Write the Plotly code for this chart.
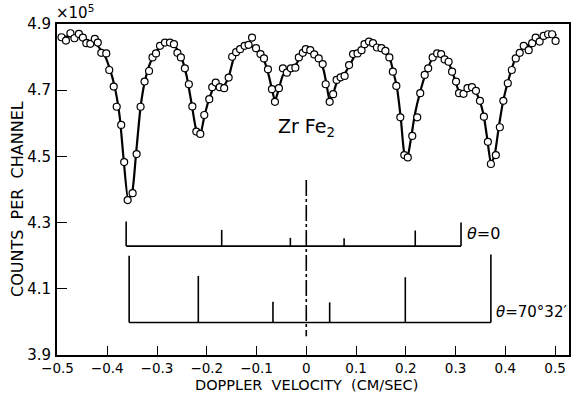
import plotly.graph_objects as go

# ---- measured spectrum (counts x1e5 vs velocity cm/s) ----
vel = [-0.492,-0.483,-0.474,-0.466,-0.457,-0.449,-0.442,-0.434,-0.425,-0.419,
       -0.412,-0.402,-0.396,-0.387,-0.381,-0.372,-0.366,-0.359,-0.349,-0.341,
       -0.333,-0.325,-0.316,-0.309,-0.302,-0.294,-0.284,-0.274,-0.266,-0.259,
       -0.252,-0.244,-0.236,-0.229,-0.221,-0.213,-0.205,-0.195,-0.189,-0.182,
       -0.174,-0.165,-0.156,-0.149,-0.141,-0.133,-0.124,-0.116,-0.109,-0.101,
       -0.092,-0.085,-0.077,-0.069,-0.063,-0.055,-0.047,-0.039,-0.031,-0.022,
       -0.015,-0.007,-0.001,0.008,0.016,0.025,0.033,0.039,0.047,0.054,
       0.061,0.069,0.077,0.086,0.094,0.103,0.111,0.117,0.126,0.134,
       0.142,0.151,0.159,0.167,0.174,0.181,0.189,0.197,0.204,0.213,
       0.223,0.229,0.238,0.245,0.254,0.263,0.271,0.278,0.286,0.293,
       0.301,0.307,0.316,0.324,0.333,0.341,0.349,0.357,0.365,0.371,
       0.381,0.389,0.396,0.405,0.413,0.421,0.429,0.437,0.447,0.454,
       0.461,0.469,0.477,0.486,0.494,0.501]
counts = [4.860,4.850,4.872,4.857,4.870,4.859,4.842,4.840,4.855,4.844,
          4.813,4.811,4.761,4.711,4.650,4.595,4.483,4.368,4.389,4.507,
          4.650,4.726,4.758,4.799,4.811,4.834,4.844,4.844,4.839,4.813,
          4.799,4.766,4.718,4.651,4.575,4.568,4.625,4.673,4.709,4.723,
          4.709,4.706,4.738,4.801,4.815,4.824,4.834,4.837,4.859,4.827,
          4.809,4.796,4.763,4.703,4.665,4.706,4.766,4.753,4.766,4.768,
          4.799,4.813,4.824,4.821,4.808,4.796,4.779,4.718,4.665,4.688,
          4.731,4.739,4.743,4.776,4.809,4.811,4.821,4.839,4.847,4.842,
          4.829,4.827,4.819,4.799,4.756,4.713,4.618,4.504,4.497,4.562,
          4.618,4.691,4.746,4.766,4.799,4.811,4.809,4.793,4.786,4.756,
          4.726,4.691,4.689,4.706,4.709,4.698,4.668,4.620,4.544,4.477,
          4.504,4.588,4.668,4.721,4.761,4.796,4.813,4.834,4.821,4.842,
          4.859,4.847,4.864,4.869,4.869,4.849]

# ---- fitted curve ----
fit_x = [-0.49,-0.46,-0.44,-0.42,-0.405,-0.395,-0.385,-0.375,-0.367,-0.358,
         -0.35,-0.342,-0.333,-0.324,-0.313,-0.30,-0.285,-0.272,-0.26,-0.25,
         -0.24,-0.23,-0.221,-0.213,-0.205,-0.195,-0.185,-0.175,-0.165,-0.155,
         -0.145,-0.13,-0.115,-0.10,-0.088,-0.078,-0.07,-0.063,-0.055,-0.047,
         -0.035,-0.022,-0.01,0.003,0.015,0.027,0.035,0.041,0.047,0.054,
         0.062,0.075,0.087,0.10,0.115,0.128,0.14,0.155,0.167,0.175,
         0.182,0.19,0.197,0.203,0.21,0.218,0.228,0.24,0.255,0.266,
         0.276,0.287,0.297,0.306,0.316,0.326,0.338,0.348,0.357,0.364,
         0.371,0.378,0.387,0.396,0.408,0.42,0.435,0.45,0.465,0.48,
         0.497,0.503]
fit_y = [4.862,4.862,4.852,4.835,4.805,4.765,4.71,4.62,4.49,4.37,
         4.39,4.51,4.65,4.73,4.785,4.82,4.842,4.845,4.825,4.795,
         4.74,4.655,4.58,4.568,4.62,4.675,4.71,4.715,4.715,4.745,
         4.80,4.826,4.835,4.825,4.80,4.76,4.71,4.668,4.705,4.745,
         4.765,4.775,4.805,4.82,4.81,4.79,4.76,4.715,4.668,4.69,
         4.725,4.745,4.775,4.81,4.832,4.843,4.835,4.82,4.80,4.755,
         4.71,4.615,4.51,4.495,4.55,4.625,4.69,4.75,4.80,4.812,
         4.80,4.78,4.74,4.70,4.69,4.705,4.70,4.67,4.62,4.55,
         4.48,4.50,4.59,4.67,4.74,4.795,4.828,4.84,4.852,4.862,
         4.868,4.866]

# ---- stick diagrams ----
theta0_x = [-0.362, -0.17, -0.032, 0.076, 0.219, 0.311]
theta0_top = [4.303, 4.278, 4.254, 4.253, 4.276, 4.300]
theta0_base = 4.229
theta70_x = [-0.356, -0.217, -0.067, 0.047, 0.199, 0.371]
theta70_top = [4.200, 4.139, 4.061, 4.059, 4.135, 4.204]
theta70_base = 3.998
center_line_y = [4.429, 3.957]

xticks = [-0.5, -0.4, -0.3, -0.2, -0.1, 0, 0.1, 0.2, 0.3, 0.4, 0.5]
xticklabels = ["\u22120.5", "\u22120.4", "\u22120.3", "\u22120.2", "\u22120.1", "0",
               "0.1", "0.2", "0.3", "0.4", "0.5"]
yticks = [3.9, 4.1, 4.3, 4.5, 4.7, 4.9]
yticklabels = ["3.9", "4.1", "4.3", "4.5", "4.7", "4.9"]

FONT = "DejaVu Sans"
fig = go.Figure()


def sticks(xs, tops, base):
    sx, sy = [], []
    for x, t in zip(xs, tops):
        sx += [x, x, None]
        sy += [base, t, None]
    sx += [xs[0], xs[-1]]
    sy += [base, base]
    return sx, sy


for xs, tops, base in [(theta0_x, theta0_top, theta0_base),
                       (theta70_x, theta70_top, theta70_base)]:
    sx, sy = sticks(xs, tops, base)
    fig.add_trace(go.Scatter(x=sx, y=sy, mode="lines",
                             line=dict(color="black", width=1.6),
                             hoverinfo="skip", showlegend=False))

fig.add_trace(go.Scatter(x=[0, 0], y=center_line_y, mode="lines",
                         line=dict(color="black", width=1.6, dash="16px,3px,3px,3px"),
                         showlegend=False))

fig.add_trace(go.Scatter(x=fit_x, y=fit_y, mode="lines",
                         line=dict(color="black", width=2.2, shape="spline", smoothing=0.5),
                         showlegend=False))
fig.add_trace(go.Scatter(x=vel, y=counts, mode="markers",
                         marker=dict(symbol="circle", size=7, color="white",
                                     line=dict(color="black", width=1.2)),
                         showlegend=False))

fig.update_layout(
    width=574, height=394,
    margin=dict(l=57, r=3, t=24, b=39),
    paper_bgcolor="white", plot_bgcolor="white",
    font=dict(family=FONT, color="black", size=14),
    xaxis=dict(range=[-0.501, 0.528], tickvals=xticks, ticktext=xticklabels,
               ticks="inside", ticklen=9, tickwidth=1.3, tickcolor="black",
               showline=True, linecolor="black", linewidth=1.8, mirror=True,
               showgrid=False, zeroline=False, tickfont=dict(size=13.5, family=FONT),
               ticklabelstandoff=0),
    yaxis=dict(range=[3.9, 4.9], tickvals=yticks, ticktext=yticklabels,
               ticks="inside", ticklen=10, tickwidth=1.3, tickcolor="black",
               showline=True, linecolor="black", linewidth=1.8, mirror=True,
               showgrid=False, zeroline=False, tickfont=dict(size=15, family=FONT),
               ticklabelstandoff=1),
    annotations=[
        dict(text="COUNTS  PER  CHANNEL", textangle=-90, xref="paper", yref="paper",
             x=-0.077, y=0.47, xanchor="center", yanchor="middle", showarrow=False,
             font=dict(size=16, family=FONT)),
        dict(text="DOPPLER  VELOCITY  (CM/SEC)", xref="x", yref="paper",
             x=0, y=-0.09, xanchor="center", yanchor="middle", showarrow=False,
             font=dict(size=14.5, family=FONT)),
        dict(text="\u00d710<sup>5</sup>", xref="paper", yref="paper",
             x=-0.006, y=1.035, xanchor="left", yanchor="middle", showarrow=False,
             font=dict(size=15, family=FONT)),
        dict(text="Zr Fe<sub>2</sub>", xref="x", yref="y", x=0, y=4.586,
             xanchor="center", yanchor="middle", showarrow=False,
             font=dict(size=19, family=FONT)),
        dict(text="<i>\u03b8</i>=0", xref="x", yref="y", x=0.318, y=4.268,
             xanchor="left", yanchor="middle", showarrow=False,
             font=dict(size=16, family=FONT)),
        dict(text="<i>\u03b8</i>=70\u00b032\u2032", xref="x", yref="y", x=0.377, y=4.031,
             xanchor="left", yanchor="middle", showarrow=False,
             font=dict(size=15, family=FONT)),
    ],
)

fig.write_html("out.html")
